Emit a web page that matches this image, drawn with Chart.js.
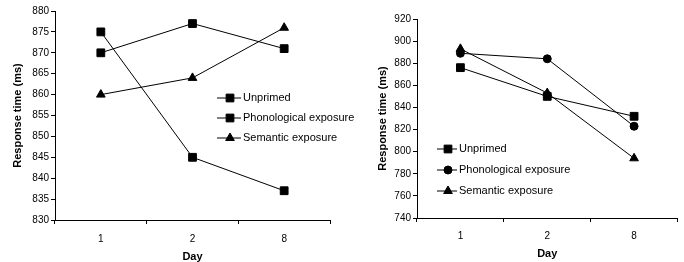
<!DOCTYPE html>
<html>
<head>
<meta charset="utf-8">
<script src="https://cdn.jsdelivr.net/npm/chart.js@4.4.1/dist/chart.umd.min.js"></script>
<style>
  body { margin: 0; background: #fff; }
  #wrap { position: relative; width: 684px; height: 262px; overflow: hidden; }
  #leftChart { position: absolute; left: 0; top: 0; }
  #rightChart { position: absolute; left: 340px; top: 0; }
</style>
</head>
<body>
<div id="wrap">
  <canvas id="leftChart" width="380" height="262"></canvas>
  <canvas id="rightChart" width="344" height="262"></canvas>
</div>
<script>
const days = ['1', '2', '8'];
const seriesNames = ['Unprimed', 'Phonological exposure', 'Semantic exposure'];

// left panel
const leftUnprimed = [870, 877, 871];
const leftPhonological = [875, 845, 837];
const leftSemantic = [860, 864, 876];
const leftTicks = [830, 835, 840, 845, 850, 855, 860, 865, 870, 875, 880];

// right panel
const rightUnprimed = [876, 850, 832];
const rightPhonological = [889, 884, 823];
const rightSemantic = [893, 853, 794];
const rightTicks = [740, 760, 780, 800, 820, 840, 860, 880, 900, 920];

const font = 'Liberation Sans, Arial, sans-serif';

// legend drawn as line - marker - line, then label
const lineLegend = {
    id: 'lineLegend',
    afterDraw(chart, args, opts) {
        const ctx = chart.ctx;
        ctx.save();
        chart.data.datasets.forEach((ds, i) => {
            const x = opts.x, y = opts.y + i * opts.gap;
            ctx.strokeStyle = '#000';
            ctx.fillStyle = '#000';
            ctx.lineWidth = 1;
            ctx.beginPath();
            ctx.moveTo(x, y);
            ctx.lineTo(x + opts.len, y);
            ctx.stroke();
            Chart.helpers.drawPoint(ctx, {
                pointStyle: ds.pointStyle,
                radius: ds.pointRadius,
                rotation: 0,
                borderWidth: 1
            }, x + opts.len / 2 + 1, y);
            ctx.fillStyle = '#000';
            ctx.font = '11px ' + font;
            ctx.textBaseline = 'middle';
            ctx.textAlign = 'left';
            ctx.fillText(ds.label, x + opts.len + 2, y);
        });
        ctx.restore();
    }
};

function makeDataset(label, data, style, radius) {
    return {
        label: label,
        data: data,
        borderColor: '#000',
        backgroundColor: '#000',
        borderWidth: 1,
        pointStyle: style,
        pointRadius: radius,
        pointHoverRadius: radius,
        pointBorderWidth: 1,
        tension: 0
    };
}

function makeOptions(ticks, yWidth, xHeight, padding, titlePad, dayPad, xPad, legendPos) {
    return {
        responsive: false,
        animation: false,
        layout: { padding: padding },
        plugins: {
            legend: { display: false },
            tooltip: { enabled: false },
            lineLegend: legendPos
        },
        scales: {
            x: {
                offset: true,
                grid: {
                    offset: true,
                    drawOnChartArea: false,
                    color: '#000',
                    tickLength: 4,
                    tickColor: '#000'
                },
                border: { color: '#000', width: 1 },
                ticks: { color: '#000', font: { family: font, size: 10 }, padding: xPad },
                title: {
                    display: true,
                    text: 'Day',
                    color: '#000',
                    font: { family: font, size: 11, weight: 'bold', lineHeight: 1 },
                    padding: { top: 0, bottom: dayPad }
                },
                afterFit(scale) { scale.height = xHeight; }
            },
            y: {
                min: ticks[0],
                max: ticks[ticks.length - 1],
                afterBuildTicks(scale) { scale.ticks = ticks.map(v => ({ value: v })); },
                grid: {
                    drawOnChartArea: false,
                    color: '#000',
                    tickLength: 4,
                    tickColor: '#000'
                },
                border: { color: '#000', width: 1 },
                ticks: { color: '#000', font: { family: font, size: 10 }, padding: 2 },
                title: {
                    display: true,
                    text: 'Response time (ms)',
                    color: '#000',
                    font: { family: font, size: 11, weight: 'bold', lineHeight: 1 },
                    padding: { top: titlePad, bottom: 0 }
                },
                afterFit(scale) { scale.width = yWidth; }
            }
        }
    };
}

new Chart(document.getElementById('leftChart'), {
    type: 'line',
    data: {
        labels: days,
        datasets: [
            makeDataset(seriesNames[0], leftUnprimed, 'rect', 5.5),
            makeDataset(seriesNames[1], leftPhonological, 'rect', 5.5),
            makeDataset(seriesNames[2], leftSemantic, 'triangle', 5)
        ]
    },
    options: makeOptions(leftTicks, 55, 42, { left: 0, top: 11, right: 50, bottom: 0 }, 12, 0, 9,
        { x: 217, y: 98, gap: 20, len: 24 }),
    plugins: [lineLegend]
});

new Chart(document.getElementById('rightChart'), {
    type: 'line',
    data: {
        labels: days,
        datasets: [
            makeDataset(seriesNames[0], rightUnprimed, 'rect', 5.5),
            makeDataset(seriesNames[1], rightPhonological, 'circle', 4),
            makeDataset(seriesNames[2], rightSemantic, 'triangle', 5)
        ]
    },
    options: makeOptions(rightTicks, 77, 44, { left: 0, top: 19, right: 3, bottom: 0 }, 37, 3, 8,
        { x: 97, y: 149, gap: 21, len: 20 }),
    plugins: [lineLegend]
});
</script>
</body>
</html>
